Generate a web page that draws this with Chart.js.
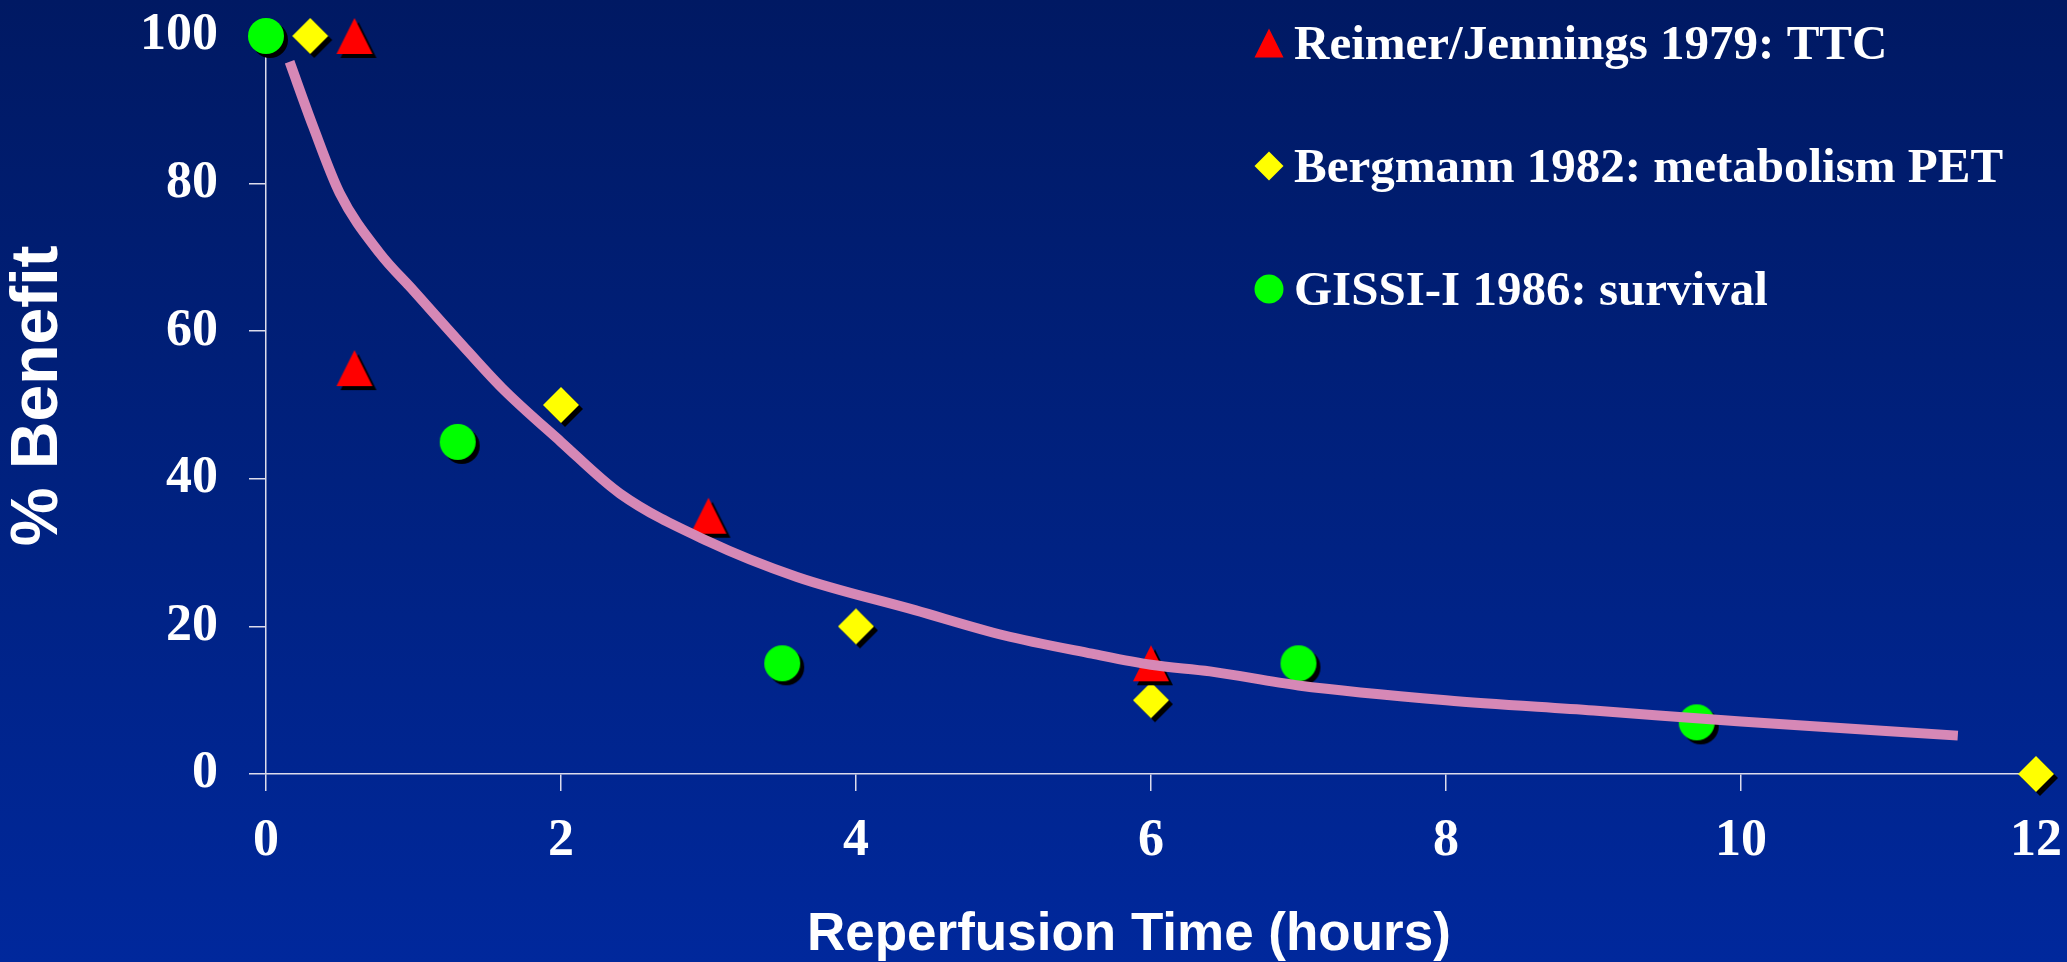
<!DOCTYPE html>
<html>
<head>
<meta charset="utf-8">
<title>% Benefit vs Reperfusion Time</title>
<script src="https://cdn.jsdelivr.net/npm/chart.js@4.4.0/dist/chart.umd.min.js"></script>
<style>
  html, body { margin: 0; padding: 0; }
  body { background: linear-gradient(to bottom, #001963 0%, #00217f 50%, #00289c 100%); }
  #wrap { width: 2067px; height: 962px; position: relative; }
</style>
</head>
<body>
<div id="wrap"><canvas id="myChart"></canvas></div>
<script>
// Reimer/Jennings 1979: TTC
const reimerHours = [0.6, 0.6, 3, 6]
const reimerBenefit = [100, 55, 35, 15]

// Bergmann 1982: metabolism PET
const bergmannHours = [0.3, 2, 4, 6, 12]
const bergmannBenefit = [100, 50, 20, 10, 0]

// GISSI-I 1986: survival
const gissiHours = [0, 1.3, 3.5, 7, 9.7]
const gissiBenefit = [100, 45, 15, 15, 7]

// hand drawn trend curve
const curveHours = [0.16, 0.32, 0.5, 0.77, 1.0, 1.3, 1.6, 2.0, 2.4, 3.0, 3.6, 4.4, 5.0, 5.6, 6.0, 6.4, 7.0, 8.0, 9.0, 10.0, 11.47]
const curveBenefit = [96.5, 87.7, 78.7, 70.6, 65.5, 58.8, 52.3, 45.0, 38.0, 31.5, 26.7, 22.2, 18.8, 16.3, 14.8, 13.9, 12.0, 10.0, 8.6, 7.1, 5.2]

const seriesNames = ['Reimer/Jennings 1979: TTC', 'Bergmann 1982: metabolism PET', 'GISSI-I 1986: survival']
const seriesColors = ['#ff0000', '#ffff00', '#00ff00']
const seriesShapes = ['triangle', 'diamond', 'circle']

const xTicks = [0, 2, 4, 6, 8, 10, 12]
const yTicks = [0, 20, 40, 60, 80, 100]

const axisColor = '#dcdcec'
const serif = '"Liberation Serif", "Times New Roman", serif'
const sans = '"Liberation Sans", Arial, sans-serif'

// turn two arrays into {x, y} points
function toPoints(xs, ys) {
  return xs.map(function (x, i) { return { x: x, y: ys[i] } })
}

// path for one marker, centred on cx, cy
function drawShape(g, shape, cx, cy, half) {
  g.beginPath()
  if (shape == 'circle') {
    g.arc(cx, cy, half, 0, Math.PI * 2)
  } else if (shape == 'diamond') {
    g.moveTo(cx, cy - half)
    g.lineTo(cx + half, cy)
    g.lineTo(cx, cy + half)
    g.lineTo(cx - half, cy)
  } else {
    g.moveTo(cx, cy - half)
    g.lineTo(cx + half, cy + half)
    g.lineTo(cx - half, cy + half)
  }
  g.closePath()
}

// marker with a black drop shadow, used as pointStyle
function makeMarker(shape, color) {
  const c = document.createElement('canvas')
  c.width = 52
  c.height = 52
  const g = c.getContext('2d')
  g.fillStyle = '#000'
  drawShape(g, shape, 30, 30, 18)
  g.fill()
  g.fillStyle = color
  drawShape(g, shape, 26, 26, 18)
  g.fill()
  return c
}

// legend in the top right corner, markers without shadow
const sideLegend = {
  id: 'sideLegend',
  afterDraw: function (chart) {
    const ctx = chart.ctx
    ctx.save()
    ctx.font = 'bold 49px ' + serif
    ctx.textBaseline = 'alphabetic'
    ctx.textAlign = 'left'
    for (let i = 0; i < seriesNames.length; i++) {
      const base = 59 + i * 123
      ctx.fillStyle = seriesColors[i]
      drawShape(ctx, seriesShapes[i], 1269, base - 16, 14.5)
      ctx.fill()
      ctx.fillStyle = '#ffffff'
      ctx.fillText(seriesNames[i], 1294, base)
    }
    ctx.restore()
  }
}

function scatterSet(label, xs, ys, i) {
  return {
    label: label,
    data: toPoints(xs, ys),
    pointStyle: makeMarker(seriesShapes[i], seriesColors[i]),
    pointRadius: 18,
    pointHoverRadius: 18,
    showLine: false,
    clip: false
  }
}

function drawChart() {
  const ctx = document.getElementById('myChart').getContext('2d')
  const chart = new Chart(ctx, {
    type: 'scatter',
    data: {
      datasets: [
        {
          label: 'trend',
          data: toPoints(curveHours, curveBenefit),
          showLine: true,
          borderColor: '#d688b6',
          borderWidth: 10,
          pointRadius: 0,
          pointHoverRadius: 0,
          tension: 0.4,
          cubicInterpolationMode: 'monotone',
          fill: false
        },
        scatterSet(seriesNames[0], reimerHours, reimerBenefit, 0),
        scatterSet(seriesNames[1], bergmannHours, bergmannBenefit, 1),
        scatterSet(seriesNames[2], gissiHours, gissiBenefit, 2)
      ]
    },
    options: {
      responsive: true,
      maintainAspectRatio: false,
      animation: false,
      events: [],
      layout: { padding: { top: 36, right: 31, bottom: 0, left: 0 } },
      plugins: {
        legend: { display: false },
        tooltip: { enabled: false }
      },
      scales: {
        x: {
          type: 'linear',
          min: xTicks[0],
          max: xTicks[xTicks.length - 1],
          afterBuildTicks: function (axis) { axis.ticks = xTicks.map(function (v) { return { value: v } }) },
          afterFit: function (axis) {
            axis.height = 188
            axis.paddingLeft = 0
            axis.paddingRight = 0
          },
          ticks: { color: '#ffffff', padding: 19, maxRotation: 0, font: { family: serif, size: 52, weight: 'bold' } },
          grid: { drawOnChartArea: false, drawTicks: true, tickLength: 17, color: axisColor, lineWidth: 1.5 },
          border: { display: true, color: axisColor, width: 1.5 },
          title: {
            display: true,
            text: 'Reperfusion Time (hours)   ',
            color: '#ffffff',
            padding: { top: 0, bottom: 0 },
            font: { family: sans, size: 53, weight: 'bold', lineHeight: 1 }
          }
        },
        y: {
          type: 'linear',
          min: yTicks[0],
          max: yTicks[yTicks.length - 1],
          afterBuildTicks: function (axis) { axis.ticks = yTicks.map(function (v) { return { value: v } }) },
          afterFit: function (axis) {
            axis.width = 266
            axis.paddingTop = 0
            axis.paddingBottom = 0
          },
          ticks: { color: '#ffffff', padding: 31, font: { family: serif, size: 52, weight: 'bold' } },
          grid: { drawOnChartArea: false, drawTicks: true, tickLength: 17, color: axisColor, lineWidth: 1.5 },
          border: { display: true, color: axisColor, width: 1.5 },
          title: {
            display: true,
            text: ' % Benefit',
            color: '#ffffff',
            padding: { top: 6, bottom: 0 },
            font: { family: sans, size: 66, weight: 'bold', lineHeight: 1 }
          }
        }
      }
    },
    plugins: [sideLegend]
  })
  return chart
}

drawChart()
</script>
</body>
</html>
